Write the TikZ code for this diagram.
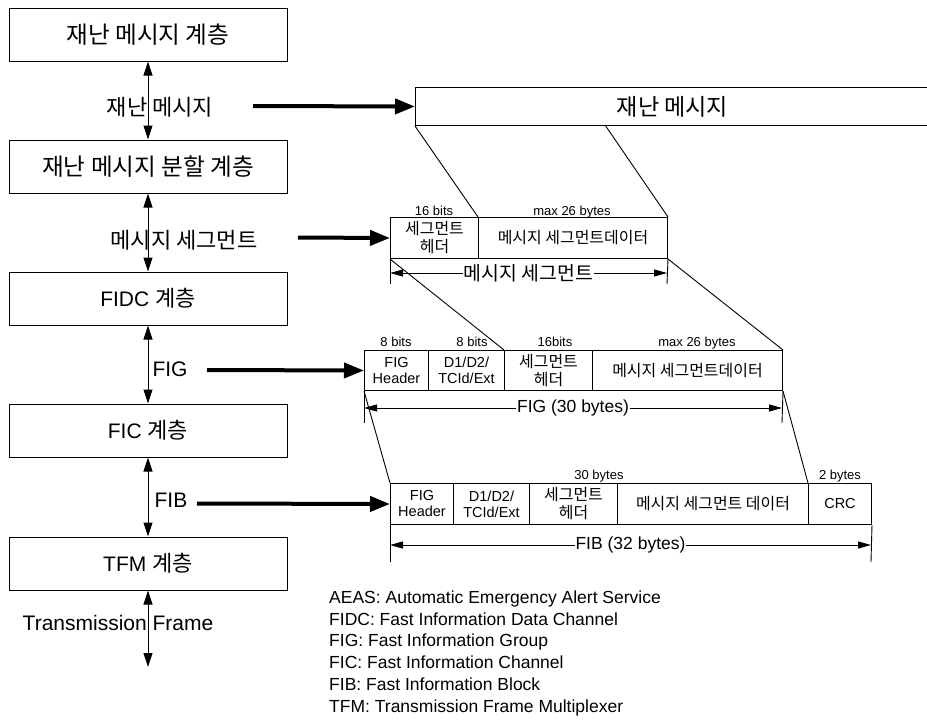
\documentclass[tikz,border=0pt]{standalone}
\usepackage{fontspec}
\setmainfont{Liberation Sans}
\newfontfamily\kr[Scale=1.05]{Noto Sans CJK KR}
\usetikzlibrary{arrows.meta}

\tikzset{
	layer/.style={draw, line width=1pt, minimum width=278pt, minimum height=53pt, inner sep=0pt, font=\fontsize{21}{24}\selectfont},
	krlayer/.style={layer, font=\kr\fontsize{22.5}{24}\selectfont},
	lbl/.style={inner sep=0pt, font=\fontsize{21}{24}\selectfont},
	cell/.style={draw, line width=1pt, anchor=north west, inner sep=0pt, align=center, font=\fontsize{14.5}{16}\selectfont},
	krcell/.style={cell, font=\kr\fontsize{15.2}{18}\selectfont},
	sizetxt/.style={anchor=base, inner sep=0pt, font=\fontsize{13}{15}\selectfont},
	dimtxt/.style={fill=white, inner sep=1pt, font=\fontsize{17.5}{20}\selectfont},
	updown/.style={{Triangle[length=14pt,width=9pt]}-{Triangle[length=14pt,width=9pt]}, line width=1pt},
	feed/.style={-{Triangle[length=20pt,width=15pt]}, line width=4pt},
	dimline/.style={{Triangle[length=13pt,width=7pt]}-{Triangle[length=13pt,width=7pt]}, line width=1pt},
	cut/.style={line width=0.9pt},
	legend/.style={anchor=base west, inner sep=0pt, font=\fontsize{17.5}{20}\selectfont}
}

\begin{document}
\begin{tikzpicture}[x=1pt, y=-1pt]
	\useasboundingbox (0,0) rectangle (927,720);

	% layer stack
	\node[krlayer] (dis) at (148,34.5) {재난 메시지 계층};
	\node[krlayer] (split) at (148,166.5) {재난 메시지 분할 계층};
	\node[layer] (fidc) at (148,298.5) {FIDC {\kr 계층}};
	\node[layer] (fic) at (148,430.5) {FIC {\kr 계층}};
	\node[layer] (tfm) at (148,563.5) {TFM {\kr 계층}};
	\coordinate (out) at (148,667);

	\node[lbl] (tdis) at (160,107) {\kr 재난 메시지};
	\node[lbl] (tseg) at (184,240) {\kr 메시지 세그먼트};
	\node[lbl] (tfig) at (170,369) {FIG};
	\node[lbl] (tfib) at (171,500) {FIB};
	\node[lbl] (ttf) at (118,623) {Transmission Frame};

	\draw[updown] (dis) -- (split);
	\draw[updown] (split) -- (fidc);
	\draw[updown] (fidc) -- (fic);
	\draw[updown] (fic) -- (tfm);
	\draw[updown] (tfm) -- (out);

	% disaster message
	\node[draw, line width=1pt, anchor=north west, minimum width=514pt, minimum height=38pt, inner sep=0pt, font=\kr\fontsize{22}{24}\selectfont] (msg) at (415,87) {재난 메시지};
	\coordinate (msgcut) at (605,125);

	% message segment
	\node[krcell, minimum width=88pt, minimum height=41pt] (shdr) at (390,217) {세그먼트\\헤더};
	\node[krcell, minimum width=189pt, minimum height=41pt] (sdata) at (478,217) {메시지 세그먼트데이터};
	\node[sizetxt] (s1) at (434,215) {16 bits};
	\node[sizetxt] (s2) at (572,215) {max 26 bytes};

	% FIG
	\node[cell, minimum width=64pt, minimum height=40pt] (ghdr) at (364,350) {FIG\\Header};
	\node[cell, minimum width=76pt, minimum height=40pt] (gd) at (428,350) {D1/D2/\\TCId/Ext};
	\node[krcell, minimum width=88pt, minimum height=40pt] (gseg) at (504,350) {세그먼트\\헤더};
	\node[krcell, minimum width=190pt, minimum height=40pt] (gdata) at (592,350) {메시지 세그먼트데이터};
	\node[sizetxt] (g1) at (396,346) {8 bits};
	\node[sizetxt] (g2) at (472,346) {8 bits};
	\node[sizetxt] (g3) at (555,346) {16bits};
	\node[sizetxt] (g4) at (697,346) {max 26 bytes};

	% FIB
	\node[cell, minimum width=63pt, minimum height=41pt] (bhdr) at (390,483) {FIG\\Header};
	\node[cell, minimum width=76pt, minimum height=41pt] (bd) at (453,483) {D1/D2/\\TCId/Ext};
	\node[krcell, minimum width=88pt, minimum height=41pt] (bseg) at (529,483) {세그먼트\\헤더};
	\node[krcell, minimum width=191pt, minimum height=41pt] (bdata) at (617,483) {메시지 세그먼트 데이터};
	\node[cell, minimum width=63pt, minimum height=41pt] (bcrc) at (808,483) {CRC};
	\node[sizetxt] (b1) at (599,479) {30 bytes};
	\node[sizetxt] (b2) at (840,479) {2 bytes};

	% feeds from the stack
	\coordinate (f1) at (253,106);
	\coordinate (f2) at (298,237.5);
	\coordinate (f3) at (207,370);
	\coordinate (f4) at (197,503.5);
	\draw[feed] (f1) -- (msg.west);
	\draw[feed] (f2) -- (shdr.west);
	\draw[feed] (f3) -- (ghdr.west);
	\draw[feed] (f4) -- (bhdr.west);

	% mapping lines
	\draw[cut] (msg.south west) -- (sdata.north west);
	\draw[cut] (msgcut) -- (sdata.north east);
	\draw[cut] (shdr.south west) -- (gseg.north west);
	\draw[cut] (sdata.south east) -- (gdata.north east);
	\draw[cut] (ghdr.south west) -- (bhdr.north west);
	\draw[cut] (gdata.south east) -- (bcrc.north west);

	% length marks
	\coordinate (st1) at (390,284);
	\coordinate (st2) at (667,284);
	\coordinate (sa1) at (390,273);
	\coordinate (sa2) at (667,273);
	\draw[cut] (shdr.south west) -- (st1);
	\draw[cut] (sdata.south east) -- (st2);
	\draw[dimline] (sa1) -- (sa2) node[dimtxt, midway, font=\kr\fontsize{18.5}{20}\selectfont] (sdim) {메시지 세그먼트};

	\coordinate (gt1) at (364,423);
	\coordinate (gt2) at (782,423);
	\coordinate (ga1) at (364,408);
	\coordinate (ga2) at (782,408);
	\draw[cut] (ghdr.south west) -- (gt1);
	\draw[cut] (gdata.south east) -- (gt2);
	\draw[dimline] (ga1) -- (ga2) node[dimtxt, midway] (gdim) {FIG (30 bytes)};

	\coordinate (bt1) at (390,562);
	\coordinate (bt2) at (871,562);
	\coordinate (ba1) at (390,545);
	\coordinate (ba2) at (871,545);
	\draw[cut] (bhdr.south west) -- (bt1);
	\draw[cut] (bcrc.south east) -- (bt2);
	\draw[dimline] (ba1) -- (ba2) node[dimtxt, midway] (bdim) {FIB (32 bytes)};

	% abbreviations
	\foreach \txt [count=\i] in {AEAS: Automatic Emergency Alert Service, FIDC: Fast Information Data Channel, FIG: Fast Information Group, FIC: Fast Information Channel, FIB: Fast Information Block, TFM: Transmission Frame Multiplexer}
		\node[legend] (leg\i) at (329,581.5+21.8*\i) {\txt};
\end{tikzpicture}
\end{document}
